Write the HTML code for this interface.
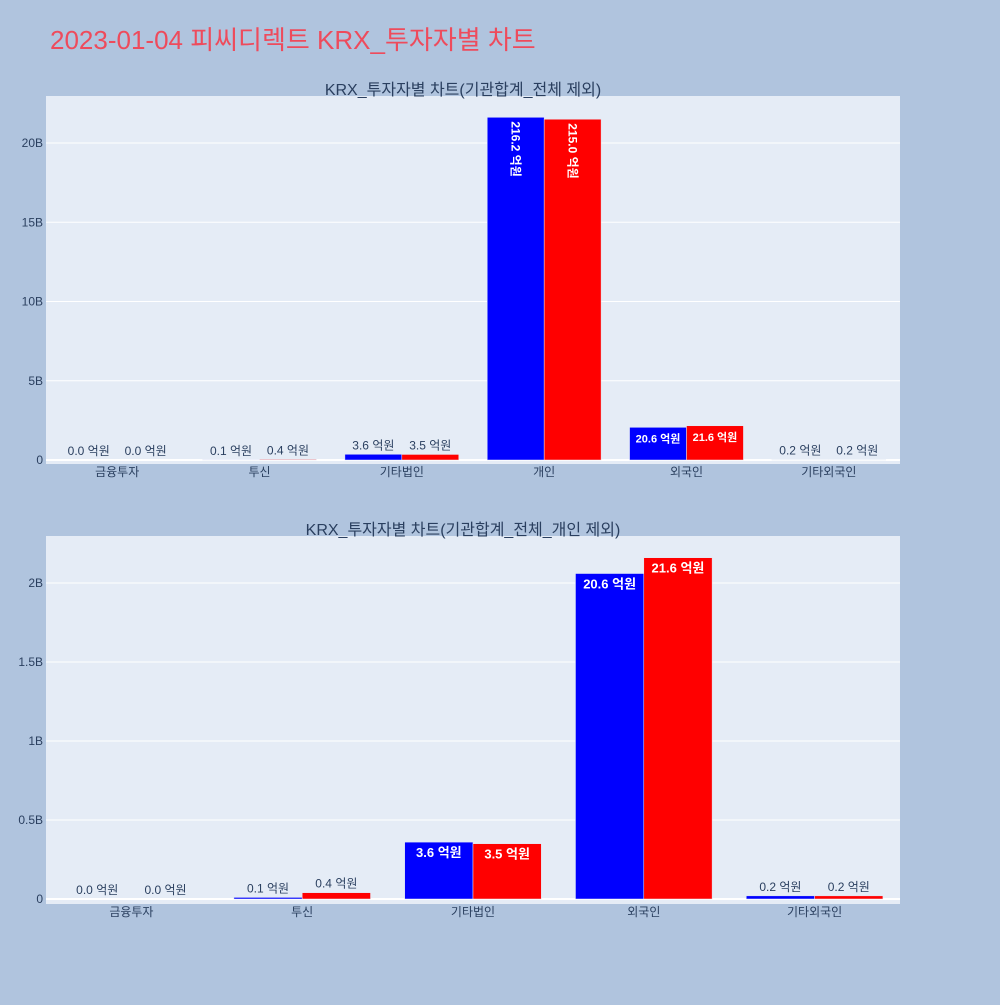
<!DOCTYPE html>
<html><head><meta charset="utf-8">
<style>
body{margin:0;background:#b0c4de;font-family:"Liberation Sans","Noto Sans CJK KR",sans-serif;}
svg text{font-family:"Liberation Sans","Noto Sans CJK KR",sans-serif;}
</style></head>
<body>
<svg id="chart" width="1000" height="1000" xmlns="http://www.w3.org/2000/svg">
<rect width="1000" height="1000" fill="#b0c4de"/>
<text x="50" y="49" font-size="26" fill="#ee4b5c">2023-01-04 피씨디렉트 KRX_투자자별 차트</text>
</svg>
<script>
const topCategories=["금융투자","투신","기타법인","개인","외국인","기타외국인"];
const topBuy=[0.0,0.1,3.6,216.2,20.6,0.2];
const topSell=[0.0,0.4,3.5,215.0,21.6,0.2];
const topTicks=[0,5,10,15,20];
const topTickLabels=["0","5B","10B","15B","20B"];
const botCategories=["금융투자","투신","기타법인","외국인","기타외국인"];
const botBuy=[0.0,0.1,3.6,20.6,0.2];
const botSell=[0.0,0.4,3.5,21.6,0.2];
const botTicks=[0,0.5,1,1.5,2];
const botTickLabels=["0","0.5B","1B","1.5B","2B"];

const NS="http://www.w3.org/2000/svg";
const svg=document.getElementById('chart');
function mk(tag,attrs,parent){const e=document.createElementNS(NS,tag);for(const k in attrs)e.setAttribute(k,attrs[k]);(parent||svg).appendChild(e);return e;}

function drawPanel(p){
  const g=mk('g',{});
  
  
  const bg=mk('rect',{x:p.x0,y:p.y0,width:p.x1-p.x0,height:p.y1-p.y0,fill:'#e5ecf6'},g);
  
  
  const yScale=v=>p.zeroY-(v/p.tickStep)*p.tickPx; // v in B
  const t=mk('text',{x:(p.x0+p.x1)/2+ -10,y:p.y0-1,'font-size':16,fill:'#2a3f5f','text-anchor':'middle'},g);
  t.textContent=p.title;
  
  
  p.ticks.forEach((tv,i)=>{
    const y=yScale(tv);
    const l=mk('line',{x1:p.x0,x2:p.x1,y1:y,y2:y,stroke:'#fff','stroke-width':i==0?2:1},g);
    
    
    const tl=mk('text',{x:p.x0-3,y:y+4,'font-size':12,fill:'#2a3f5f','text-anchor':'end'},g);
    tl.textContent=p.tickLabels[i];
    
    
  });
  const n=p.cats.length,cw=(p.x1-p.x0)/n,bw=cw*0.4;
  p.cats.forEach((c,i)=>{
    const cx=p.x0+cw*(i+0.5);
    [[p.buy[i],'#0000ff',cx-bw],[p.sell[i],'#ff0000',cx]].forEach(([v,col,bx],j)=>{
      const vb=v/10;
      const y=yScale(vb),h=p.zeroY-y;
      const r=mk('rect',{x:bx,y:y,width:bw,height:Math.max(h,0),fill:col,stroke:'#e5ecf6','stroke-width':0.5},g);
      
      
      const label=v.toFixed(1)+' 억원';
      const lw=label.length*7;
      const tx=bx+bw/2;
      if(h>22){
        let e;
        if(lw+6>bw){
          e=mk('text',{x:0,y:0,'font-size':12,'font-weight':'bold',fill:'#fff','text-anchor':'start',transform:`translate(${tx-4},${y+4}) rotate(90)`},g);
        }else{
          e=mk('text',{x:tx,y:y+15,'font-size':p.inSize,'font-weight':'bold',fill:'#fff','text-anchor':'middle'},g);
        }
        e.textContent=label;
        
        
      }else{
        const e=mk('text',{x:tx,y:y-5,'font-size':12,fill:'#2a3f5f','text-anchor':'middle'},g);
        e.textContent=label;
        
        
      }
    });
    const xl=mk('text',{x:cx,y:p.y1+12,'font-size':12,fill:'#2a3f5f','text-anchor':'middle'},g);
    xl.textContent=c;
    
    
  });
}
drawPanel({name:'top-panel',title:'KRX_투자자별 차트(기관합계_전체 제외)',x0:46,x1:900,y0:96,y1:464,zeroY:460,tickStep:5,tickPx:79.25,ticks:topTicks,tickLabels:topTickLabels,cats:topCategories,buy:topBuy,sell:topSell,inSize:11});
drawPanel({name:'bottom-panel',title:'KRX_투자자별 차트(기관합계_전체_개인 제외)',x0:46,x1:900,y0:536,y1:904,zeroY:899,tickStep:0.5,tickPx:79,ticks:botTicks,tickLabels:botTickLabels,cats:botCategories,buy:botBuy,sell:botSell,inSize:13});
</script>
</body></html>
